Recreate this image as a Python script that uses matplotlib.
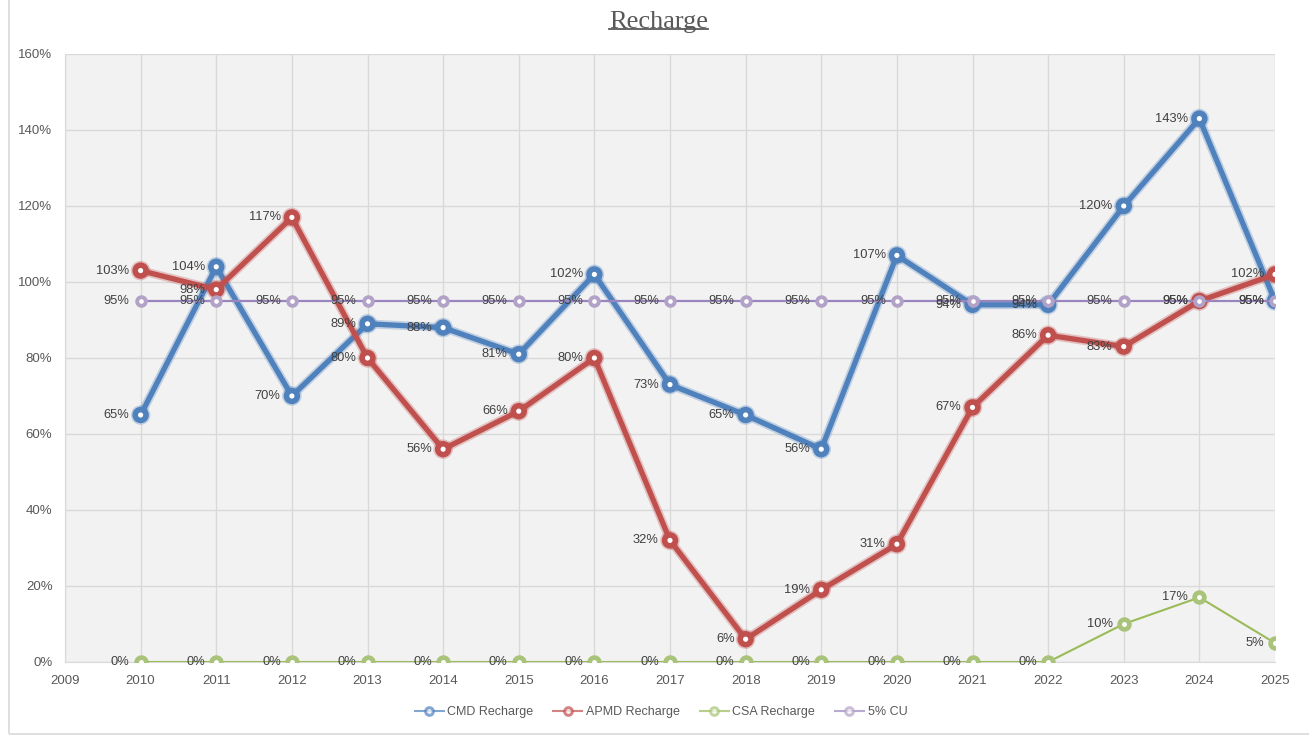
import matplotlib
matplotlib.use("Agg")
import matplotlib.pyplot as plt
import matplotlib.patheffects as pe
from matplotlib.ticker import FuncFormatter, MultipleLocator
from matplotlib.patches import Rectangle
from matplotlib.lines import Line2D

# data (percent)
years = list(range(2010, 2026))
cmd_recharge = [65, 104, 70, 89, 88, 81, 102, 73, 65, 56, 107, 94, 94, 120, 143, 95]
apmd_recharge = [103, 98, 117, 80, 56, 66, 80, 32, 6, 19, 31, 67, 86, 83, 95, 102]
csa_recharge = [0, 0, 0, 0, 0, 0, 0, 0, 0, 0, 0, 0, 0, 10, 17, 5]
cu_5pct = [95] * 16

# name, values, line colour, marker colour, line width, marker size, edge width
series = [
    ("CMD Recharge", cmd_recharge, "#4F81BD", "#4F81BD", 3.8, 7.8, 4.0),
    ("APMD Recharge", apmd_recharge, "#C0504D", "#C0504D", 3.8, 7.8, 4.0),
    ("CSA Recharge", csa_recharge, "#9BBB59", "#A9C47A", 1.5, 7.0, 3.4),
    ("5% CU", cu_5pct, "#9A86BE", "#B3A2C7", 1.6, 6.2, 2.8),
]

plt.rcParams["font.family"] = ["Liberation Sans", "DejaVu Sans"]

fig = plt.figure(figsize=(13.09, 7.44), dpi=100)
ax = fig.add_axes([65 / 1309, 1 - 662 / 744, (1275 - 65) / 1309, (662 - 54) / 744])
ax.set_facecolor("#F2F2F2")

# outer chart frame
fig.patches.append(Rectangle((9 / 1309, 10 / 744), 1.2, 1.2, transform=fig.transFigure,
                             fill=False, edgecolor="#D9D9D9", lw=1.2))

handles = []
for i, (name, vals, col, mcol, lw, ms, mew) in enumerate(series):
    glow = [pe.Stroke(linewidth=lw + 2.5, foreground=col, alpha=0.3), pe.Normal()] if lw > 3 else None
    ax.plot(years, vals, color=col, lw=lw, marker="o", ms=ms, mfc="white", mec=mcol,
            mew=mew, zorder=3 + i, path_effects=glow, solid_joinstyle="round")
    handles.append(Line2D([], [], color=col, alpha=0.7, lw=1.5, marker="o", ms=5.5,
                          mfc="white", mec=mcol, mew=2.2, label=name))

for name, vals, col, mcol, lw, ms, mew in series:
    for x, v in zip(years, vals):
        ax.annotate(f"{v}%", (x, v), xytext=(-8, 0), textcoords="offset points",
                    ha="right", va="center", fontsize=9.3, color="#404040", zorder=10)

ax.set_xlim(2009, 2025)
ax.set_ylim(0, 160)
ax.xaxis.set_major_locator(MultipleLocator(1))
ax.yaxis.set_major_locator(MultipleLocator(20))
ax.yaxis.set_major_formatter(FuncFormatter(lambda v, p: f"{v:.0f}%"))
ax.grid(True, color="#D9D9D9", lw=1)
ax.set_axisbelow(True)
for s in ["top", "right"]:
    ax.spines[s].set_visible(False)
ax.spines["left"].set_color("#D9D9D9")
ax.spines["bottom"].set_color("#D9D9D9")
ax.tick_params(length=0, labelsize=9.5, labelcolor="#595959")
ax.tick_params(axis="x", pad=9)
ax.tick_params(axis="y", pad=9)

title = fig.text(0.503, 0.970, "Recharge", ha="center", va="center", fontsize=19,
                 family="Liberation Serif", color="#595959")
fig.canvas.draw()
bb = title.get_window_extent().transformed(fig.transFigure.inverted())
fig.add_artist(Line2D([bb.x0, bb.x1], [bb.y0 + 0.006, bb.y0 + 0.006], color="#595959",
                      lw=1.3, transform=fig.transFigure))

fig.legend(handles=handles, loc="center", bbox_to_anchor=(0.505, 1 - 712 / 744), ncol=4,
           frameon=False, fontsize=9, labelcolor="#595959", handlelength=2.3,
           handletextpad=0.3, columnspacing=1.6)

fig.savefig("out.png", dpi=100)
